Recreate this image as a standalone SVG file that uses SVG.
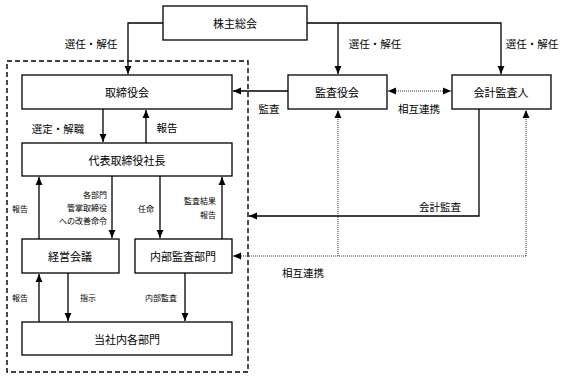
<svg xmlns="http://www.w3.org/2000/svg" width="567" height="378" viewBox="0 0 567 378">
<defs>
<marker id="ah" markerUnits="userSpaceOnUse" markerWidth="8" markerHeight="8" refX="7" refY="3" orient="auto-start-reverse" viewBox="0 0 7 6">
<path d="M0,0 L7,3 L0,6 z" fill="#000"/>
</marker>
<style>
.box{fill:#fff;stroke:#000;stroke-width:1.3}
.ln{fill:none;stroke:#000;stroke-width:1.3}
.dot{fill:none;stroke:#333;stroke-width:1;stroke-dasharray:1 1}
.t{font-family:"Noto Sans CJK JP","Noto Sans",sans-serif;font-size:11px;fill:#000;text-anchor:middle;dominant-baseline:central}
.l{font-family:"Noto Sans CJK JP","Noto Sans",sans-serif;font-size:10.5px;fill:#000;text-anchor:middle;dominant-baseline:central}
.s{font-family:"Noto Sans CJK JP","Noto Sans",sans-serif;font-size:8px;fill:#000;text-anchor:middle;dominant-baseline:central}
.r{text-anchor:end}
</style>
</defs>
<rect x="7" y="61" width="241" height="311" fill="none" stroke="#000" stroke-width="1.4" stroke-dasharray="5 3"/>
<g id="connectors">
<path class="ln" d="M163,23 H128 V74" marker-end="url(#ah)"/>
<path class="ln" d="M307,23 H501 V74" marker-end="url(#ah)"/>
<path class="ln" d="M338,23 V74" marker-end="url(#ah)"/>
<path class="ln" d="M288,91 H233" marker-end="url(#ah)"/>
<path class="dot" d="M388,91 H451" marker-start="url(#ah)" marker-end="url(#ah)"/>
<path class="ln" d="M103,109 V142" marker-end="url(#ah)"/>
<path class="ln" d="M146,143 V110" marker-end="url(#ah)"/>
<path class="ln" d="M39,239 V177" marker-end="url(#ah)"/>
<path class="ln" d="M112,176 V238" marker-end="url(#ah)"/>
<path class="ln" d="M160,176 V238" marker-end="url(#ah)"/>
<path class="ln" d="M222,239 V177" marker-end="url(#ah)"/>
<path class="ln" d="M39,322 V274" marker-end="url(#ah)"/>
<path class="ln" d="M68,273 V321" marker-end="url(#ah)"/>
<path class="ln" d="M185,273 V321" marker-end="url(#ah)"/>
<path class="ln" d="M479,109 V216 H249" marker-end="url(#ah)"/>
<path class="dot" d="M526,256 V110" marker-end="url(#ah)"/>
<path class="dot" d="M338,256 V110" marker-end="url(#ah)"/>
<path class="dot" d="M526,256 H233" marker-end="url(#ah)"/>
</g>
<g id="kabunushi"><rect class="box" x="163" y="6" width="144" height="34"/><text class="t" x="235" y="23">株主総会</text></g>
<g id="torishimariyaku"><rect class="box" x="22" y="75" width="210" height="34"/><text class="t" x="127" y="92">取締役会</text></g>
<g id="kansayaku"><rect class="box" x="288" y="75" width="99" height="34"/><text class="t" x="337" y="92">監査役会</text></g>
<g id="kaikei"><rect class="box" x="452" y="75" width="99" height="34"/><text class="t" x="501" y="92">会計監査人</text></g>
<g id="daihyo"><rect class="box" x="22" y="143" width="210" height="33"/><text class="t" x="127" y="160">代表取締役社長</text></g>
<g id="keiei"><rect class="box" x="22" y="239" width="97" height="34"/><text class="t" x="70" y="256">経営会議</text></g>
<g id="naibu"><rect class="box" x="135" y="239" width="97" height="34"/><text class="t" x="183" y="256">内部監査部門</text></g>
<g id="kakubumon"><rect class="box" x="22" y="322" width="210" height="33"/><text class="t" x="127" y="339">当社内各部門</text></g>
<g id="labels">
<text class="l" x="91" y="43">選任・解任</text>
<text class="l" x="375" y="43">選任・解任</text>
<text class="l" x="532" y="43">選任・解任</text>
<text class="l" x="269" y="108">監査</text>
<text class="l" x="419" y="108">相互連携</text>
<text class="l" x="58" y="128">選定・解職</text>
<text class="l" x="167" y="127">報告</text>
<text class="s" x="20" y="208">報告</text>
<text class="s r" x="107" y="194">各部門</text>
<text class="s r" x="107" y="207">管掌取締役</text>
<text class="s r" x="107" y="220">への改善命令</text>
<text class="s" x="146" y="208">任命</text>
<text class="s r" x="216" y="200">監査結果</text>
<text class="s r" x="216" y="214">報告</text>
<text class="l" x="440" y="206">会計監査</text>
<text class="l" x="303" y="272">相互連携</text>
<text class="s" x="20" y="297">報告</text>
<text class="s" x="88" y="297">指示</text>
<text class="s" x="161" y="297">内部監査</text>
</g>
</svg>
